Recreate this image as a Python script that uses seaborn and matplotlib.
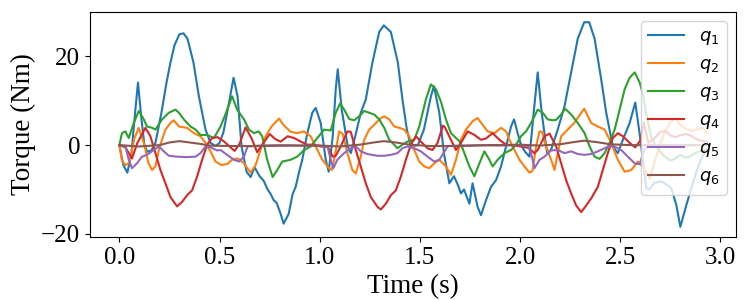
import matplotlib
matplotlib.use("Agg")
import matplotlib.pyplot as plt
import pandas as pd
import seaborn as sns

# joint torques (time in s, torque in Nm)
q1_t = [0, 0.02, 0.04, 0.06, 0.08, 0.093, 0.11, 0.125, 0.14, 0.16, 0.18, 0.21, 0.235, 0.255, 0.275,
        0.3, 0.32, 0.34, 0.37, 0.397, 0.43, 0.455, 0.48, 0.5, 0.52, 0.545, 0.57, 0.59, 0.61, 0.635,
        0.655, 0.675, 0.7, 0.72, 0.74, 0.755, 0.77, 0.785, 0.805, 0.82, 0.845, 0.865, 0.88, 0.9,
        0.913, 0.938, 0.963, 0.98, 1.005, 1.03, 1.045, 1.065, 1.08, 1.09, 1.11, 1.14, 1.155, 1.18,
        1.205, 1.23, 1.263, 1.297, 1.32, 1.355, 1.39, 1.413, 1.435, 1.455, 1.49, 1.52, 1.555, 1.57,
        1.597, 1.62, 1.647, 1.67, 1.69, 1.705, 1.72, 1.747, 1.763, 1.788, 1.805, 1.83, 1.855, 1.88,
        1.905, 1.93, 1.955, 1.97, 1.988, 2.005, 2.025, 2.047, 2.068, 2.088, 2.108, 2.135, 2.155,
        2.188, 2.222, 2.255, 2.288, 2.32, 2.345, 2.372, 2.405, 2.43, 2.463, 2.488, 2.513, 2.547,
        2.575, 2.6, 2.63, 2.645, 2.67, 2.7, 2.72, 2.755, 2.78, 2.8, 2.83, 2.855, 2.88, 2.905, 2.93]
q1_v = [0, -4.5, -6.2, -2, 8, 14.1, 6, 0, -1.5, -1.2, 0.5, 7.3, 14, 18.6, 22.5,
        25, 25.2, 24, 18.6, 11, 3.5, 0.5, -0.2, 0.5, 3, 9, 15.2, 11, -0.3, -6,
        -7.2, -5, -7, -8, -10, -11, -12.4, -13, -15.5, -17.7, -15.5, -11, -9.4, -5.5,
        -3.3, 2.7, 7.3, 8.4, 5, -3.3, -6, 2, 12.6, 17.1, 8, -0.3, -1.8, 2.5,
        7.3, 10.3, 18.6, 25.5, 27, 25.5, 18.6, 10.3, 3.5, -0.3, 0, 3.5, 11, 13.3,
        7.3, -1.8, -8.6, -7, -9, -10.9, -10, -13.2, -8.6, -13.9, -15.8, -12.4, -9.4, -7.9,
        -4.8, -0.3, 4.2, 5.8, 2.7, 0, -1.5, -2.6, 7.3, 16.4, 7.3, -1.8, -1,
        3.5, 8.8, 16.4, 24, 27.7, 27.7, 24, 14.8, 7.3, -0.3, -1.8, 1.2, 5,
        9.6, 1.5, -9.7, -10, -8.5, -8.2, -8.5, -9.7, -13.5, -18.4, -13.5, -9.7, -6, -3, -1]

q2_t = [0, 0.013, 0.03, 0.05, 0.075, 0.097, 0.125, 0.145, 0.163, 0.18, 0.2, 0.23, 0.255, 0.272,
        0.297, 0.338, 0.372, 0.405, 0.43, 0.455, 0.48, 0.51, 0.54, 0.565, 0.59, 0.62, 0.655, 0.68,
        0.705, 0.73, 0.76, 0.797, 0.82, 0.855, 0.888, 0.92, 0.955, 0.98, 1.013, 1.047, 1.06, 1.075,
        1.097, 1.115, 1.138, 1.163, 1.18, 1.205, 1.222, 1.247, 1.272, 1.305, 1.322, 1.347, 1.372,
        1.397, 1.422, 1.447, 1.472, 1.497, 1.522, 1.547, 1.572, 1.597, 1.63, 1.655, 1.68, 1.705,
        1.73, 1.763, 1.788, 1.813, 1.838, 1.872, 1.905, 1.93, 1.947, 1.972, 1.997, 2.022, 2.047,
        2.062, 2.08, 2.097, 2.11, 2.13, 2.155, 2.172, 2.205, 2.238, 2.27, 2.32, 2.355, 2.388, 2.422,
        2.455, 2.488, 2.522, 2.555, 2.588, 2.615, 2.647, 2.67, 2.688, 2.72, 2.75, 2.775, 2.8, 2.83,
        2.86, 2.89, 2.915, 2.93]
q2_v = [0, -3.5, -4.5, -4, 1.5, 3.9, 0, -4, -5.6, -4.8, -0.5, 3.5, 5, 5.6,
        4.2, 3.9, 2.7, 2, 0.5, -1.4, -3.7, -4.5, -4.2, -3.2, -3.0, -4.0, -6.2, -4.5,
        -1.0, 2.0, 4.2, 6.0, 4.5, 3.0, 2.7, 3.1, 2.0, -0.3, -3.3, -5.2, -5.6, -2.6,
        3.1, 2.5, -1.8, -5.6, -6.4, -2.6, 1.2, 3.5, 4.6, 6.1, 6.5, 5.8, 4.2,
        3.9, 3.5, 2.0, -1.1, -3.7, -4.8, -5.2, -4.1, -3.3, -4.8, -6.7, -3.3, 1.2,
        3.5, 5.4, 6.1, 4.6, 3.1, 2.7, 3.9, 3.1, 1.2, -1.1, -3.3, -4.8, -6.2,
        -5.8, -0.3, 3.1, 3.0, -0.3, -3.3, -5.6, 2.0, 3.5, 5.0, 8.2, 5.0, 4.2, 3.5,
        0.5, -3.3, -6.0, -5.6, -3.7, -5.0, -7.6, -4.0, -1.4, 2.8, 5.0, 6.2, 4.5, 3.6,
        3.2, 3.6, 3.9, 2.8]

q3_t = [0, 0.013, 0.03, 0.047, 0.072, 0.097, 0.122, 0.138, 0.163, 0.18, 0.213, 0.247, 0.28, 0.297,
        0.322, 0.355, 0.38, 0.405, 0.438, 0.472, 0.505, 0.53, 0.563, 0.588, 0.622, 0.647, 0.672,
        0.695, 0.713, 0.738, 0.765, 0.788, 0.813, 0.855, 0.888, 0.922, 0.955, 0.988, 1.022, 1.055,
        1.08, 1.102, 1.122, 1.147, 1.172, 1.197, 1.222, 1.247, 1.272, 1.297, 1.322, 1.347, 1.372,
        1.388, 1.413, 1.438, 1.472, 1.497, 1.53, 1.555, 1.58, 1.605, 1.63, 1.655, 1.68, 1.7, 1.722,
        1.747, 1.772, 1.797, 1.822, 1.847, 1.863, 1.888, 1.922, 1.955, 1.98, 2.005, 2.03, 2.055,
        2.088, 2.113, 2.138, 2.163, 2.18, 2.205, 2.225, 2.255, 2.288, 2.322, 2.347, 2.372, 2.397,
        2.422, 2.447, 2.472, 2.497, 2.522, 2.547, 2.572, 2.597, 2.613, 2.63, 2.655, 2.69, 2.72,
        2.75, 2.775, 2.8, 2.825, 2.85, 2.875, 2.9, 2.93]
q3_v = [0, 2.7, 3.1, 1.6, 5, 7.7, 5.8, 4.2, 3.9, 3.5, 5.8, 7.3, 8, 7.3,
        5.8, 4.2, 3.5, 2.3, 2.3, 1.6, 4.2, 7, 11, 8, 5.8, 3.5, 2.7,
        3.1, 2.0, -3.3, -7.2, -5.6, -3.7, -3.3, -2.6, -1.1, -0.3, 1.6, 3.5, 3.3,
        7.3, 9.4, 8, 5.9, 5.6, 6.5, 7.7, 7.3, 6.9, 5.8, 3.9, 1.2, 0.1,
        -0.7, 0.1, 0.8, 1.2, 4.2, 10.3, 13.7, 12.6, 9.8, 5.8, 2.7, 1.6, 0.8, -1.8,
        -4.8, -7, -4.1, -1.4, -3.3, -4.8, -3.3, -1.8, -1.1, 0.1, 2, 3.1, 5,
        8, 7.3, 5.8, 5.6, 5.7, 6.9, 8.2, 6.9, 5, 2.7, -0.3, -2.6, -3.1,
        -1.8, 0.5, 3.5, 8, 12.6, 15.2, 16.4, 14.1, 11.5, 7, 1.7, -1.0, -2.5,
        -3.5, -3.0, -2.2, -2.8, -2.5, -1.8, -1.3, -1.0]

q4_t = [0, 0.03, 0.063, 0.09, 0.13, 0.155, 0.18, 0.205, 0.23, 0.255, 0.288, 0.313, 0.338, 0.363,
        0.388, 0.413, 0.438, 0.463, 0.49, 0.52, 0.55, 0.575, 0.6, 0.63, 0.66, 0.688, 0.715, 0.75,
        0.78, 0.805, 0.84, 0.872, 0.905, 0.938, 0.972, 1.005, 1.04, 1.065, 1.08, 1.105, 1.138,
        1.155, 1.18, 1.205, 1.23, 1.255, 1.288, 1.305, 1.33, 1.355, 1.38, 1.405, 1.43, 1.455,
        1.48, 1.505, 1.538, 1.563, 1.588, 1.615, 1.625, 1.655, 1.68, 1.705, 1.738, 1.772, 1.805,
        1.83, 1.863, 1.897, 1.93, 1.97, 2.005, 2.04, 2.072, 2.088, 2.122, 2.147, 2.18, 2.205,
        2.23, 2.255, 2.28, 2.305, 2.33, 2.355, 2.388, 2.413, 2.438, 2.463, 2.488, 2.513, 2.547,
        2.575, 2.6, 2.618, 2.64, 2.67, 2.7, 2.725, 2.75, 2.775, 2.8, 2.825, 2.85, 2.875, 2.9, 2.93]
q4_v = [0, -0.5, -3.0, 0.5, 3.9, 2, -1.8, -5.6, -8.6, -11.7, -13.8, -12.8, -11.3, -10.2,
        -7.1, -3.3, 0.1, 1.6, 1.8, 0.9, -0.3, -1.3, 0.3, 4.0, 1.5, -1.6, 0.2, 2.5,
        1.3, 0.8, 2.0, 1.6, 0.8, 0.1, 0.1, -0.3, -0.3, -2.6, -2.4, -0.3, 3.1,
        3.0, -1.1, -4.8, -8.6, -11.7, -13.9, -14.5, -13.2, -11.3, -10.2, -7.1, -3.3, 0.1,
        2.0, 0.8, -0.7, -1.1, 0.5, 4.4, 4.0, 1.2, -1.1, 0.5, 3.1, 2.3, 1.2,
        1.5, 2.7, 1.2, 0.1, -0.1, -0.3, -0.6, -1.8, -1.1, 2.0, 2.6, -0.3, -4.1,
        -7.9, -10.9, -13.6, -15.1, -13.6, -12.0, -9.4, -5.6, -1.8, 1.6, 2.7, 2.0, 0.5,
        -0.5, 1.0, 5.1, 0.5, 1.5, 3.0, 3.2, 2.2, 1.8, 2.2, 2.5, 2.2, 1.5, 1.0, 0.8]

q5_t = [0, 0.03, 0.047, 0.063, 0.088, 0.113, 0.138, 0.172, 0.197, 0.222, 0.247, 0.288, 0.338, 0.38,
        0.405, 0.43, 0.455, 0.488, 0.505, 0.538, 0.572, 0.597, 0.622, 0.64, 0.7, 0.8, 0.9, 1.0,
        1.04, 1.055, 1.068, 1.088, 1.122, 1.155, 1.18, 1.205, 1.238, 1.288, 1.322, 1.355, 1.388,
        1.413, 1.438, 1.472, 1.505, 1.538, 1.572, 1.597, 1.622, 1.64, 1.7, 1.8, 1.9, 2.0, 2.04,
        2.055, 2.072, 2.097, 2.122, 2.155, 2.188, 2.222, 2.255, 2.288, 2.322, 2.355, 2.388, 2.422,
        2.447, 2.47, 2.505, 2.538, 2.572, 2.597, 2.622, 2.645, 2.7, 2.8, 2.93]
q5_v = [0, -0.3, -3.3, -5.2, -4.1, -2.6, -2.2, -1.1, -0.3, -1.4, -2.4, -2.6, -2.7, -2.6,
        -1.8, -0.3, -0.5, -1.2, -1.1, -2.2, -3.3, -3.7, -2.6, -0.3, -0.1, 0, -0.1, -0.1,
        -0.5, -3.3, -5.2, -3.3, -1.8, -0.7, -0.3, -1.4, -2.0, -2.4, -2.4, -2.2, -1.8,
        -0.7, -0.3, -0.7, -1.4, -2.6, -3.7, -3.3, -1.5, -0.2, -0.1, 0, -0.1, 0, -0.3,
        -1.8, -5.2, -3.3, -2.6, -1.2, -1.1, -1.8, -1.4, -2.0, -2.2, -2.0, -1.4, -0.7,
        -0.2, -0.3, -1.1, -2.6, -4.1, -4.3, -0.8, 0, 0, 0, 0]

q6_t = [0, 0.1, 0.2, 0.25, 0.3, 0.35, 0.4, 0.45, 0.55, 0.7, 0.85, 1.0, 1.1, 1.2, 1.27, 1.32,
        1.38, 1.45, 1.55, 1.7, 1.85, 2.0, 2.1, 2.2, 2.27, 2.32, 2.38, 2.45, 2.55, 2.7, 2.93]
q6_v = [0, -0.3, 0, 0.6, 0.9, 0.6, 0.3, -0.1, -0.2, -0.2, -0.1, -0.1, -0.3, 0.1, 0.6, 0.9,
        0.6, 0.1, -0.2, -0.2, 0, 0.1, -0.1, 0.2, 0.7, 1.0, 0.7, 0.2, 0, 0, 0]

series = [
    (r"$q_1$", q1_t, q1_v),
    (r"$q_2$", q2_t, q2_v),
    (r"$q_3$", q3_t, q3_v),
    (r"$q_4$", q4_t, q4_v),
    (r"$q_5$", q5_t, q5_v),
    (r"$q_6$", q6_t, q6_v),
]

plt.rcParams["font.family"] = ["Liberation Serif", "DejaVu Serif"]
plt.rcParams["mathtext.fontset"] = "dejavusans"

colors = sns.color_palette("tab10", 6)

fig, ax = plt.subplots(figsize=(7.5, 3), dpi=100)
fig.subplots_adjust(left=0.12, right=0.981, top=0.96, bottom=0.21)

for (name, t, v), c in zip(series, colors):
    df = pd.DataFrame({"time": t, "torque": v})
    sns.lineplot(data=df, x="time", y="torque", ax=ax, color=c, label=name,
                 estimator=None, sort=False, linewidth=1.5)

ax.set_xlabel("Time (s)", fontsize=19.5)
ax.set_ylabel("Torque (Nm)", fontsize=19.5)
ax.tick_params(labelsize=18)
ax.set_xticks([0.0, 0.5, 1.0, 1.5, 2.0, 2.5, 3.0])
ax.set_yticks([-20, 0, 20])
ax.legend(loc="upper right", fontsize=13)

fig.savefig("out.png", dpi=100)
